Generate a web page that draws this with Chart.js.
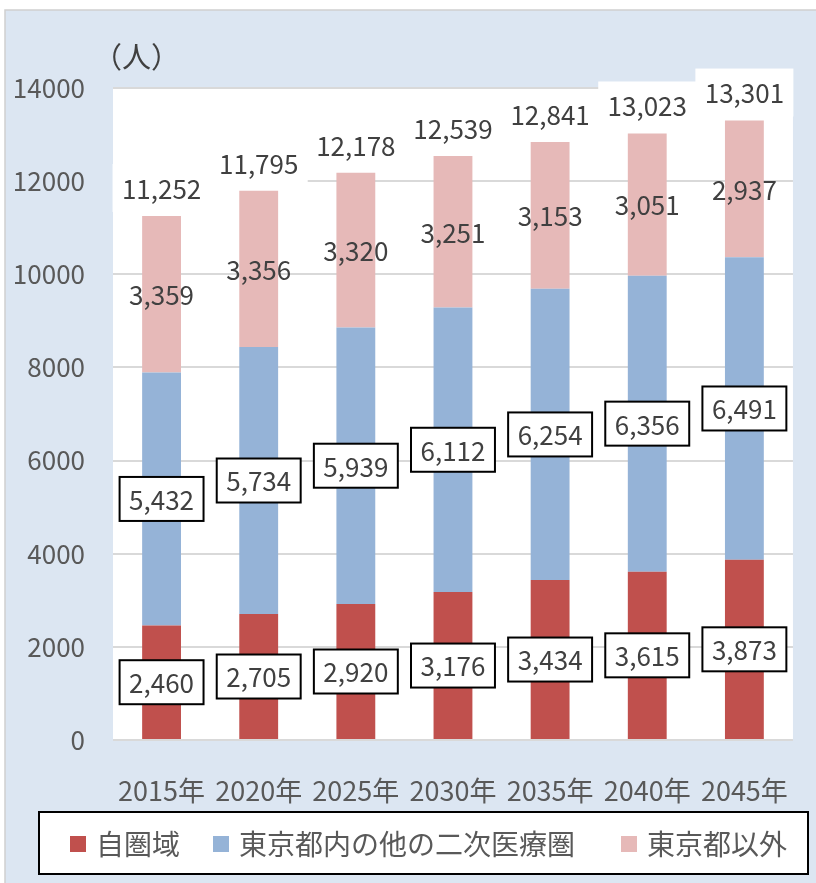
<!DOCTYPE html>
<html>
<head>
<meta charset="utf-8">
<script src="https://cdn.jsdelivr.net/npm/chart.js@4.4.1/dist/chart.umd.min.js"></script>
<style>
  html, body { margin: 0; padding: 0; background: #fff; }
  canvas { display: block; }
</style>
</head>
<body>
<canvas id="chart" width="816" height="883"></canvas>
<script>
const years = ['2015年', '2020年', '2025年', '2030年', '2035年', '2040年', '2045年'];
const ownArea = [2460, 2705, 2920, 3176, 3434, 3615, 3873];
const otherTokyo = [5432, 5734, 5939, 6112, 6254, 6356, 6491];
const outsideTokyo = [3359, 3356, 3320, 3251, 3153, 3051, 2937];
const totals = [11252, 11795, 12178, 12539, 12841, 13023, 13301];
const seriesNames = ['自圏域', '東京都内の他の二次医療圏', '東京都以外'];

const FONT = '"Noto Sans CJK JP", "Noto Sans", sans-serif';
const fmt = v => v.toLocaleString('en-US');

// background, frame and white plot area
const backdrop = {
  id: 'backdrop',
  beforeDraw(chart) {
    const { ctx, chartArea: a } = chart;
    ctx.save();
    ctx.fillStyle = '#ffffff';
    ctx.fillRect(0, 0, chart.width, chart.height);
    ctx.fillStyle = '#dce6f2';
    ctx.fillRect(5, 10, chart.width - 5, chart.height - 10);
    ctx.strokeStyle = '#d0d0d0';
    ctx.lineWidth = 1.5;
    ctx.beginPath();
    ctx.moveTo(5, chart.height);
    ctx.lineTo(5, 10);
    ctx.lineTo(chart.width, 10);
    ctx.stroke();
    ctx.fillStyle = '#ffffff';
    ctx.fillRect(a.left, a.top, a.right - a.left, a.bottom - a.top);

    // unit label
    ctx.fillStyle = '#404040';
    ctx.font = '29px ' + FONT;
    ctx.textBaseline = 'middle';
    ctx.textAlign = 'left';
    ctx.fillText('（人）', 93, 57);
    ctx.restore();
  }
};

// value labels, totals and legend
const labels = {
  id: 'labels',
  afterDatasetsDraw(chart) {
    const { ctx } = chart;
    ctx.save();
    ctx.font = '26px ' + FONT;
    ctx.textAlign = 'center';
    ctx.textBaseline = 'middle';

    chart.data.datasets.forEach((ds, di) => {
      const meta = chart.getDatasetMeta(di);
      meta.data.forEach((bar, i) => {
        const cy = (bar.y + bar.base) / 2;
        const txt = fmt(ds.data[i]);
        if (di < 2) {
          const w = ctx.measureText(txt).width + 19;
          const h = 44;
          ctx.fillStyle = '#ffffff';
          ctx.fillRect(bar.x - w / 2, cy - h / 2, w, h);
          ctx.strokeStyle = '#000000';
          ctx.lineWidth = 2;
          ctx.strokeRect(bar.x - w / 2, cy - h / 2, w, h);
        }
        ctx.fillStyle = '#404040';
        ctx.fillText(txt, bar.x, cy + 1);
      });
    });

    // totals above the stacks
    const yScale = chart.scales.y;
    const top = chart.getDatasetMeta(2);
    top.data.forEach((bar, i) => {
      const cy = yScale.getPixelForValue(totals[i]) - 28;
      ctx.fillStyle = '#ffffff';
      ctx.fillRect(bar.x - 49, cy - 24, 98, 48);
      ctx.fillStyle = '#404040';
      ctx.fillText(fmt(totals[i]), bar.x, cy + 1);
    });

    // legend
    ctx.fillStyle = '#ffffff';
    ctx.fillRect(39, 812, 769, 62);
    ctx.strokeStyle = '#000000';
    ctx.lineWidth = 2;
    ctx.strokeRect(39, 812, 769, 62);
    const starts = [70, 213, 621];
    ctx.font = '28px ' + FONT;
    ctx.textAlign = 'left';
    chart.data.datasets.forEach((ds, di) => {
      ctx.fillStyle = ds.backgroundColor;
      ctx.fillRect(starts[di], 836, 16, 16);
      ctx.fillStyle = '#595959';
      ctx.fillText(ds.label, starts[di] + 26, 844);
    });
    ctx.restore();
  }
};

new Chart(document.getElementById('chart'), {
  type: 'bar',
  data: {
    labels: years,
    datasets: [
      { label: seriesNames[0], data: ownArea, backgroundColor: '#c0504d' },
      { label: seriesNames[1], data: otherTokyo, backgroundColor: '#95b3d7' },
      { label: seriesNames[2], data: outsideTokyo, backgroundColor: '#e6b9b8' }
    ]
  },
  options: {
    responsive: false,
    animation: false,
    devicePixelRatio: 1,
    layout: { padding: { left: 0, top: 88, right: 16, bottom: 0 } },
    datasets: { bar: { barPercentage: 0.4, categoryPercentage: 1.0 } },
    plugins: { legend: { display: false }, tooltip: { enabled: false } },
    scales: {
      x: {
        stacked: true,
        grid: { display: false },
        border: { display: false },
        ticks: { color: '#595959', font: { family: FONT, size: 27 }, padding: 27 },
        afterFit(s) { s.height = 143; }
      },
      y: {
        stacked: true,
        min: 0,
        max: 14000,
        grid: { color: '#d9d9d9', lineWidth: 2, drawTicks: false },
        border: { display: false },
        ticks: {
          stepSize: 2000,
          color: '#595959',
          font: { family: FONT, size: 26 },
          padding: 28,
          callback: v => String(v)
        },
        afterFit(s) { s.width = 113; }
      }
    }
  },
  plugins: [backdrop, labels]
});
</script>
</body>
</html>
